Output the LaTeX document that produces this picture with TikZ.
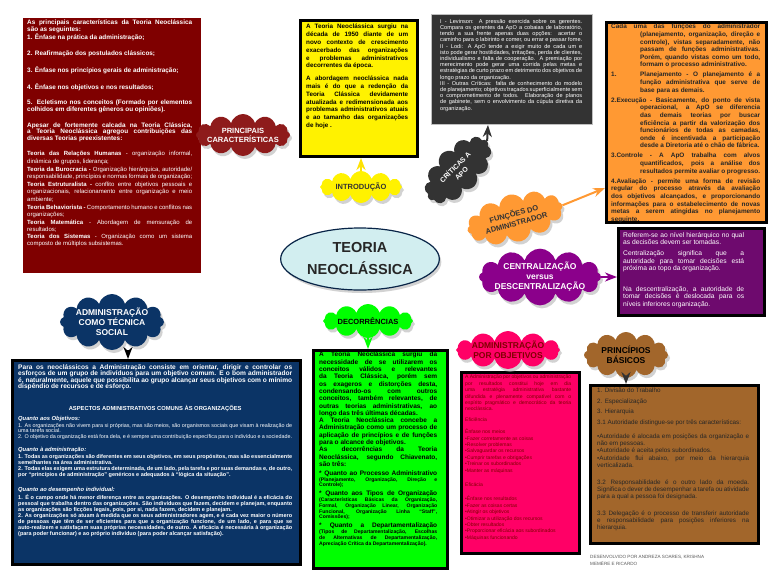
\documentclass[tikz,border=0pt]{standalone}
\usepackage{fontspec}
\setmainfont{Liberation Sans}
\usetikzlibrary{arrows.meta,positioning,shapes.geometric,shapes.symbols,shadows}
\pgfdeclarelayer{bg}
\pgfsetlayers{bg,main}
\hyphenpenalty=10000
\exhyphenpenalty=10000

\definecolor{vinho}{HTML}{7F0000}
\definecolor{vinhoc}{HTML}{8E1B1B}
\definecolor{grafite}{HTML}{333333}
\definecolor{laranja}{HTML}{FF9933}
\definecolor{roxo}{HTML}{6E0A6E}
\definecolor{roxoc}{HTML}{8B008B}
\definecolor{marinho}{HTML}{0B3466}
\definecolor{verde}{HTML}{00FF00}
\definecolor{rosa}{HTML}{FF0066}
\definecolor{marrom}{HTML}{A2662B}
\definecolor{ciano}{HTML}{D2EEF0}

\begin{document}
\begin{tikzpicture}[x=1pt,y=-1pt,>=Stealth,
  panel/.style={anchor=north west,draw=black,line width=3pt,inner sep=0pt},
  txt/.style={anchor=north west,inner sep=0pt,align=justify},
  blob/.style={cloud,cloud puffs=12,cloud ignores aspect,inner xsep=-6pt,inner ysep=-2pt,align=center,font=\fontsize{7.5}{9}\selectfont\bfseries,drop shadow={shadow xshift=2pt,shadow yshift=-3pt,fill=black!35}},
  branch/.style={line width=3pt},
  feed/.style={->,line width=2pt}]

\fill[white] (0,0) rectangle (768,576);
\useasboundingbox (0,0) rectangle (768,576);

% caracteristicas
\node[panel,draw=none,fill=vinho,minimum width=178pt,minimum height=255pt] (pcb) at (21,16) {};
\node[txt,text width=165pt,text=white,font=\fontsize{6.4}{6.6}\selectfont\bfseries] (pct) at (27,20) {As principais características da Teoria Neoclássica\linebreak são as seguintes:\par
1. Ênfase na prática da administração;\par\vspace{9pt}
2. Reafirmação dos postulados clássicos;\par\vspace{9pt}
3. Ênfase nos princípios gerais de administração;\par\vspace{9pt}
4. Ênfase nos objetivos e nos resultados;\par\vspace{9pt}
5. Ecletismo nos conceitos (Formado por elementos colhidos em diferentes gêneros ou opiniões).\par\vspace{9pt}
Apesar de fortemente calcada na Teoria Clássica, a Teoria Neoclássica agregou contribuições das diversas Teorias preexistentes:\par\vspace{8pt}
\fontsize{6}{7.6}\selectfont
Teoria das Relações Humanas {\mdseries - organização informal, dinâmica de grupos, liderança;}\par
Teoria da Burocracia - {\mdseries Organização hierárquica, autoridade/ responsabilidade, princípios e normas formais de organização;}\par
Teoria Estruturalista - {\mdseries conflito entre objetivos pessoais e organizacionais, relacionamento entre organização e meio ambiente;}\par
Teoria Behaviorista - {\mdseries Comportamento humano e conflitos nas organizações;}\par
Teoria Matemática {\mdseries - Abordagem de mensuração de resultados;}\par
Teoria dos Sistemas {\mdseries - Organização como um sistema composto de múltiplos subsistemas.}};

% introducao
\node[panel,fill=yellow,minimum width=117pt,minimum height=136pt] (inb) at (299,19) {};
\node[txt,text width=102pt,font=\fontsize{6.3}{7.8}\selectfont\bfseries] (int) at (306,24) {A Teoria Neoclássica surgiu na década de 1950 diante de um novo contexto de crescimento exacerbado das organizações e problemas administrativos decorrentes da época.\par\vspace{5pt}
A abordagem neoclássica nada mais é do que a redenção da Teoria Clássica devidamente atualizada e redimensionada aos problemas administrativos atuais e ao tamanho das organizações de hoje .};

% criticas
\node[panel,draw=black!25,line width=1pt,fill=grafite,minimum width=161pt,minimum height=110pt] (crb) at (431,14) {};
\node[txt,text width=142pt,text=white,font=\fontsize{5.6}{6.2}\selectfont] (crt) at (440,19) {I - Levinson: A pressão exercida sobre os gerentes. Compara os gerentes da ApO a cobaias de laboratório, tendo a sua frente apenas duas opções: acertar o caminho para o labirinto e comer, ou errar e passar fome.\par
II - Lodi: A ApO tende a exigir muito de cada um e isto pode gerar hostilidades, irritações, perda de clientes, individualismo e falta de cooperação. A premiação por merecimento pode gerar uma corrida pelas metas e estratégias de curto prazo em detrimento dos objetivos de longo prazo da organização.\par
III - Outras Críticas: falta de conhecimento do modelo de planejamento; objetivos traçados superficialmente sem o comprometimento de todos. Elaboração de planos de gabinete, sem o envolvimento da cúpula diretiva da organização.};

% funcoes
\node[panel,fill=laranja,minimum width=160pt,minimum height=200pt] (fub) at (605,21) {};
\node[txt,text width=149pt,text=black!85,font=\fontsize{6.4}{7.6}\selectfont\bfseries] (fut) at (611,24) {\hangindent=29pt\hangafter=1 Cada uma das funções do administrador (planejamento, organização, direção e controle), vistas separadamente, não passam de funções administrativas. Porém, quando vistas como um todo, formam o processo administrativo.\par\vspace{2.5pt}
\hangindent=29pt\hangafter=1 \makebox[29pt][l]{1.}Planejamento - O planejamento é a função administrativa que serve de base para as demais.\par\vspace{2.5pt}
\hangindent=29pt\hangafter=1 2.Execução - Basicamente, do ponto de vista operacional, a ApO se diferencia das demais teorias por buscar eficiência a partir da valorização dos funcionários de todas as camadas, onde é incentivada a participação desde a Diretoria até o chão de fábrica.\par\vspace{2.5pt}
\hangindent=29pt\hangafter=1 3.Controle - A ApO trabalha com alvos quantificados, pois a análise dos resultados permite avaliar o progresso.\par\vspace{2.5pt}
\hangindent=29pt\hangafter=1 4.Avaliação - permite uma forma de revisão regular do processo através da avaliação dos objetivos alcançados, e proporcionando informações para o estabelecimento de novas metas a serem atingidas no planejamento seguinte.};

% centralizacao
\node[panel,fill=roxo,minimum width=146pt,minimum height=87pt] (ceb) at (617,227) {};
\node[txt,text width=121pt,text=white,font=\fontsize{6.7}{7.3}\selectfont] (cet) at (623,232) {Referem-se ao nível hierárquico no qual\linebreak as decisões devem ser tomadas.\par\vspace{4pt}
Centralização significa que a\linebreak autoridade para tomar decisões está\linebreak próxima ao topo da organização.\par\vspace{14pt}
Na descentralização, a autoridade de tomar decisões é deslocada para os níveis inferiores organização.};

% tecnica social
\node[panel,fill=marinho,minimum width=288pt,minimum height=204pt] (tsb) at (11,359) {};
\node[txt,text width=274pt,text=white,font=\fontsize{6.6}{6.5}\selectfont\bfseries] (tst) at (18,364) {Para os neoclássicos a Administração consiste em orientar, dirigir e controlar os\linebreak esforços de um grupo de indivíduos para um objetivo comum. E o bom administrador é, naturalmente, aquele que possibilita ao grupo alcançar seus objetivos com o mínimo dispêndio de recursos e de esforço.\par\vspace{15pt}
{\centering\fontsize{5.8}{7}\selectfont ASPECTOS ADMINISTRATIVOS COMUNS ÀS ORGANIZAÇÕES\par}\vspace{3pt}
{\fontsize{5.8}{7}\selectfont\itshape Quanto aos Objetivos:\par}\vspace{1pt}
{\mdseries\fontsize{5.4}{5.6}\selectfont 1. As organizações não vivem para si próprias, mas são meios, são organismos sociais que visam à realização de uma tarefa social.\par
2. O objetivo da organização está fora dela, e é sempre uma contribuição específica para o indivíduo e a sociedade.\par}\vspace{6pt}
{\fontsize{5.8}{7}\selectfont\itshape Quanto à administração:\par}\vspace{1pt}
{\fontsize{5.5}{6}\selectfont 1. Todas as organizações são diferentes em seus objetivos, em seus propósitos, mas são essencialmente semelhantes na área administrativa.\par
2. Todas elas exigem uma estrutura determinada, de um lado, pela tarefa e por suas demandas e, de outro, por “princípios de administração” genéricos e adequados à “lógica da situação”.\par}\vspace{8pt}
{\fontsize{5.8}{7}\selectfont\itshape Quanto ao desempenho individual:\par}\vspace{1pt}
{\fontsize{5.5}{6}\selectfont 1. É o campo onde há menor diferença entre as organizações. O desempenho individual é a eficácia do pessoal que trabalha dentro das organizações. São indivíduos que fazem, decidem e planejam, enquanto as organizações são ficções legais, pois, por si, nada fazem, decidem e planejam.\par
2. As organizações só atuam à medida que os seus administradores agem, e é cada vez maior o número de pessoas que têm de ser eficientes para que a organização funcione, de um lado, e para que se auto-realizem e satisfaçam suas próprias necessidades, de outro. A eficácia é necessária à organização (para poder funcionar) e ao próprio indivíduo (para poder alcançar satisfação).\par}};

% decorrencias
\node[panel,fill=verde,minimum width=134pt,minimum height=218pt] (deb) at (312,349) {};
\node[txt,text width=118pt,font=\fontsize{6.5}{7.3}\selectfont\bfseries] (det) at (319,352) {A Teoria Neoclássica surgiu da necessidade de se utilizarem os conceitos válidos e relevantes da Teoria Clássica, porém sem os exageros e distorções desta, condensando-os com outros conceitos, também relevantes, de outras teorias administrativas, ao longo das três últimas décadas.\par
A Teoria Neoclássica concebe a Administração como um processo de aplicação de princípios e de funções para o alcance de objetivos.\par
As decorrências da Teoria Neoclássica, segundo Chiavenato, são três:\par\vspace{3pt}
* Quanto ao Processo Administrativo {\fontsize{5.1}{5.8}\selectfont (Planejamento, Organização, Direção e Controle);\par}\vspace{3pt}
* Quanto aos Tipos de Organização {\fontsize{5.1}{5.8}\selectfont (Características Básicas da Organização, Formal, Organização Linear, Organização Funcional, Organização Linha “Staff”, Comissões);\par}\vspace{3pt}
* Quanto a Departamentalização {\fontsize{5.1}{5.8}\selectfont (Tipos de Departamentalização, Escolhas de Alternativas de Departamentalização, Apreciação Crítica da Departamentalização).\par}};

% administracao por objetivos
\node[panel,fill=rosa,minimum width=118pt,minimum height=181pt] (aob) at (460,371) {};
\node[txt,text width=106pt,text=vinho,font=\fontsize{5.05}{6.4}\selectfont] (aot) at (465,375) {A Administração por objetivos ou administração por resultados constitui hoje em dia uma estratégia administrativa bastante difundida e plenamente compatível com o espírito pragmático e democrático da teoria neoclássica.\par\vspace{4pt}
Eficiência\par\vspace{6pt}
Ênfase nos meios\par
•Fazer corretamente as coisas\par
•Resolver problemas\par
•Salvaguardar os recursos\par
•Cumprir tarefas e obrigações\par
•Treinar os subordinados\par
•Manter as máquinas\par\vspace{8pt}
Eficácia\par\vspace{8pt}
•Ênfase nos resultados\par
•Fazer as coisas certas\par
•Atingir os objetivos\par
•Otimizar a utilização dos recursos\par
•Obter resultados\par
•Proporcionar eficácia aos subordinados\par
•Máquinas funcionando};

% principios basicos
\node[panel,fill=marrom,minimum width=168pt,minimum height=158pt] (pbb) at (589,384) {};
\node[txt,text width=152pt,text=black!85,font=\fontsize{6.3}{7.2}\selectfont] (pbt) at (597,388) {1. Divisão do Trabalho\par\vspace{3.3pt}
2. Especialização\par\vspace{3.3pt}
3. Hierarquia\par\vspace{3.3pt}
3.1 Autoridade distingue-se por três características:\par\vspace{7pt}
•Autoridade é alocada em posições da organização e não em pessoas.\par
•Autoridade é aceita pelos subordinados.\par
•Autoridade flui abaixo, por meio da hierarquia verticalizada.\par\vspace{10pt}
3.2 Responsabilidade é o outro lado da moeda. Significa o dever de desempenhar a tarefa ou atividade para a qual a pessoa foi designada.\par\vspace{9pt}
3.3 Delegação é o processo de transferir autoridade e responsabilidade para posições inferiores na hierarquia.};

% centro e nuvens
\node[ellipse,draw=marinho!70!black,line width=1.2pt,fill=ciano,minimum width=150pt,minimum height=62pt,align=center,text=black!85,font=\fontsize{14.5}{22}\selectfont\bfseries,drop shadow={shadow xshift=2pt,shadow yshift=-3pt,fill=black!35}] (tn) at (360,259) {TEORIA\\NEOCLÁSSICA};

\node[blob,fill=vinhoc,text=white,minimum width=94pt,minimum height=42pt] (pc) at (243,135) {PRINCIPAIS\\CARACTERÍSTICAS};
\node[blob,fill=yellow,text=black!80,minimum width=82pt,minimum height=32pt] (intro) at (361,187) {INTRODUÇÃO};
\node[blob,fill=grafite,text=white,rotate=45,inner xsep=-2pt,minimum width=82pt,minimum height=46pt,font=\fontsize{7}{9}\selectfont\bfseries] (crit) at (458,170) {CRÍTICAS A\\APO};
\node[blob,fill=laranja,text=black!80,rotate=15,minimum width=98pt,minimum height=48pt,font=\fontsize{7.5}{9.5}\selectfont\bfseries] (func) at (515,218) {FUNÇÕES DO\\ADMINISTRADOR};
\node[blob,fill=roxoc,text=white,font=\fontsize{8.5}{10}\selectfont\bfseries,minimum width=122pt,minimum height=54pt] (cent) at (540,277) {CENTRALIZAÇÃO\\versus\\DESCENTRALIZAÇÃO};
\node[blob,fill=rosa,text=vinho,font=\fontsize{8.5}{10}\selectfont\bfseries,minimum width=104pt,minimum height=38pt] (apo) at (508,350) {ADMINISTRAÇÃO\\POR OBJETIVOS};
\node[blob,fill=marrom,text=black,font=\fontsize{8.5}{10}\selectfont\bfseries,minimum width=84pt,minimum height=46pt] (princ) at (626,355) {PRINCÍPIOS\\BÁSICOS};
\node[blob,fill=verde,text=black,minimum width=90pt,minimum height=34pt] (decor) at (368,321) {DECORRÊNCIAS};
\node[blob,fill=marinho,text=white,font=\fontsize{8.5}{10}\selectfont\bfseries,minimum width=104pt,minimum height=56pt] (tecn) at (112,322) {ADMINISTRAÇÃO\\COMO TÉCNICA\\SOCIAL};

\begin{pgfonlayer}{bg}
\draw[branch,vinhoc] (tn) -- (pc);
\draw[branch,yellow] (tn) -- (intro);
\draw[branch,grafite] (tn) -- (crit);
\draw[branch,laranja] (tn) -- (func);
\draw[branch,roxoc] (tn) -- (cent);
\draw[branch,rosa] (tn) -- (apo);
\draw[branch,marrom] (tn) -- (princ);
\draw[branch,verde] (tn) -- (decor);
\draw[branch,marinho] (tn) -- (tecn);
\end{pgfonlayer}

\draw[feed,yellow!85!orange] (intro.north) -- (intro.north |- inb.south);
\draw[feed,grafite] (crit.east) -- ([xshift=-24pt]crb.south);
\draw[feed,laranja] (func.east) -- ([yshift=36pt]fub.south west);
\draw[feed,roxoc] (cent.east) -- (cent.east -| ceb.west);
\draw[feed,verde] (decor.south) -- (decor.south |- deb.north);
\draw[feed,black] ([xshift=16pt]tecn.south) -- ([xshift=16pt]tecn.south |- tsb.north);
\draw[feed,black!80] (princ.south) -- (princ.south |- pbb.north);

\node[anchor=north west,inner sep=0pt,align=left,text=black!65,font=\fontsize{4.6}{7}\selectfont] (cred) at (590,555) {DESENVOLVIDO POR ANDREZA SOARES, KRISHNA\\MEMÈRE E RICARDO};
\end{tikzpicture}
\end{document}
